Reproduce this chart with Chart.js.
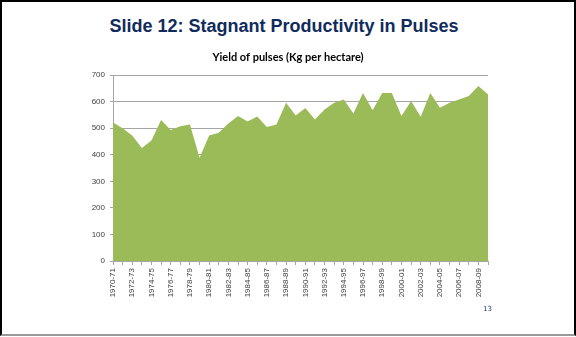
<!DOCTYPE html>
<html>
<head>
<meta charset="utf-8">
<script src="https://cdn.jsdelivr.net/npm/chart.js@4/dist/chart.umd.min.js"></script>
<style>
  html, body { margin: 0; padding: 0; background: #fff; }
  #slide {
    position: relative; width: 572px; height: 332px;
    border: 2px solid #000; border-bottom: 2px solid #9a9a9a;
    overflow: hidden;
  }
  #heading {
    position: absolute; left: -4px; width: 572px; top: 14px; text-align: center;
    font: bold 18px "Liberation Sans", Arial, sans-serif; color: #0f2b5c;
  }
  #pageNo {
    position: absolute; left: 481px; top: 303px;
    font: 7px "DejaVu Sans", sans-serif; color: #1f3c7a;
  }
  #wrap { position: absolute; left: -2px; top: -2px; width: 576px; height: 337px; }
</style>
</head>
<body>
<div id="slide">
  <div id="heading">Slide 12: Stagnant Productivity in Pulses</div>
  <div id="wrap"><canvas id="chart"></canvas></div>
  <div id="pageNo">13</div>
</div>
<script>
// Années agricoles 1970-71 .. 2009-10
const years = [];
for (let y = 1970; y <= 2009; y++) {
    years.push(y + '-' + String((y + 1) % 100).padStart(2, '0'));
}

// Rendement des légumineuses (kg/ha)
const yieldKgHa = [
    522, 500, 473, 426, 454, 531, 494, 508, 514, 389,
    473, 483, 518, 546, 526, 544, 505, 514, 596, 548,
    576, 533, 571, 596, 608, 556, 633, 568, 633, 633,
    546, 603, 543, 633, 577, 596, 608, 622, 659, 627
];

const yTicks = [0, 100, 200, 300, 400, 500, 600, 700];

new Chart(document.getElementById('chart').getContext('2d'), {
    type: 'line',
    data: {
        labels: years,
        datasets: [{
            data: yieldKgHa,
            fill: 'origin',
            backgroundColor: '#9bbb59',
            borderWidth: 0,
            pointRadius: 0,
            tension: 0,
        }],
    },
    options: {
        responsive: true,
        maintainAspectRatio: false,
        animation: false,
        layout: { padding: { left: 88, right: 88, top: 51, bottom: 36 } },
        plugins: {
            legend: { display: false },
            tooltip: { enabled: false },
            title: {
                display: true,
                text: 'Yield of pulses (Kg per hectare)',
                color: '#000',
                font: { family: 'Lato', size: 11, weight: 'bold' },
                padding: { top: 0, bottom: 11 },
            },
        },
        scales: {
            x: {
                offset: false,
                grid: { drawOnChartArea: false, drawTicks: true, tickLength: 4, color: '#a6a6a6' },
                border: { color: '#a6a6a6' },
                ticks: {
                    autoSkip: false,
                    minRotation: 90,
                    maxRotation: 90,
                    padding: 3,
                    color: '#404040',
                    font: { family: 'Liberation Sans', size: 8 },
                    callback: (v, i) => (i % 2 === 0 ? years[i] : ''),
                },
                afterFit: s => { s.height = 40; },
            },
            y: {
                min: 0,
                max: 700,
                afterBuildTicks: s => { s.ticks = yTicks.map(v => ({ value: v })); },
                grid: { color: '#a6a6a6', tickLength: 3 },
                border: { color: '#a6a6a6' },
                ticks: {
                    padding: 5,
                    color: '#404040',
                    font: { family: 'Liberation Sans', size: 8 },
                },
                afterFit: s => { s.width = 25; },
            },
        },
    },
});
</script>
</body>
</html>
